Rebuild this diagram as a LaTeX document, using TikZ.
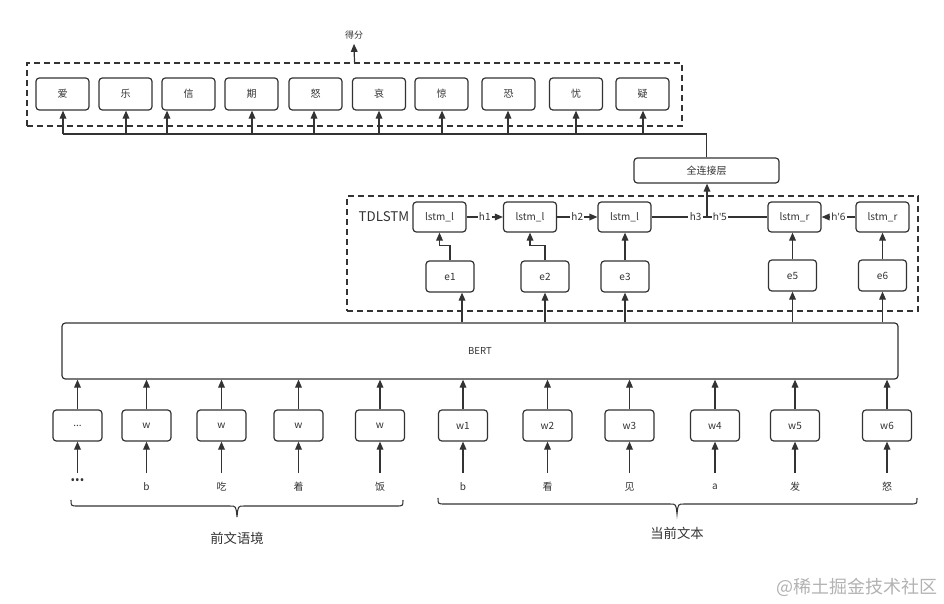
\documentclass[tikz,border=0pt]{standalone}
\usepackage{fontspec}
\setmainfont{Noto Sans CJK SC}
\newfontfamily\lat{Noto Sans}
\usetikzlibrary{arrows.meta}
\definecolor{ink}{HTML}{333333}
\newcommand\wdots{...}
\newcommand\bdots{{\lat\fontsize{9}{10}\selectfont •••}}
\begin{document}
\begin{tikzpicture}[x=0.75pt,y=-0.75pt,
  lbl/.style={font=\fontsize{7.5}{9}\selectfont, text=ink},
  box/.style={draw=ink, line width=0.9pt, rounded corners=2.5pt, fill=white, inner sep=0pt, lbl},
  emo/.style={box, minimum width=39.75pt, minimum height=24pt},
  lstmbox/.style={box, minimum width=39.75pt, minimum height=22.5pt},
  ebox/.style={box, minimum width=36pt, minimum height=23.25pt},
  wbox/.style={box, minimum width=36.75pt, minimum height=23.25pt},
  arr/.style={-{Triangle[length=6pt,width=5pt]}, line width=0.9pt, draw=ink},
  ln/.style={line width=0.9pt, draw=ink},
  dbox/.style={draw=ink, line width=1pt, dash pattern=on 4.5pt off 3pt, inner sep=0pt},
  hl/.style={lbl, fill=white, inner sep=1pt},
  bigl/.style={font=\fontsize{10}{12}\selectfont, text=ink},
]
\useasboundingbox (0,0) rectangle (944,603);

% dashed groups
\node[dbox, minimum width=491.25pt, minimum height=47.25pt] (emobox) at (354.5,94.5) {};
\node[dbox, minimum width=428.25pt, minimum height=86.25pt] (tdbox) at (632.5,253.5) {};

% score
\node[font=\fontsize{6.75}{8}\selectfont, text=ink] (score) at (354,35) {得分};
\draw[arr] (emobox.north) -- (score.south);

% emotion boxes
\node[box, minimum width=108.75pt, minimum height=18.75pt] (fc) at (706.5,170.5) {全连接层};
\coordinate (busR) at (706.5,134);
\coordinate (busL) at (63,134);
\draw[ln] (fc.north) -- (busR) -- (busL);
\foreach \n/\c/\x/\ax in {a1/爱/62.5/63, a2/乐/125.5/126, a3/信/188.5/167, a4/期/251.5/252, a5/怒/315.5/314, a6/哀/379/379, a7/惊/441.5/442, a8/恐/508.5/508, a9/忧/576/576, a10/疑/642.5/643}{
  \node[emo] (\n) at (\x,94) {\c};
  \coordinate (b\n) at (\ax,134);
  \draw[arr] (b\n) -- (b\n |- \n.south);
}

% TDLSTM
\node[bigl, anchor=west] (tdl) at (354,217) {TDLSTM};
\node[lstmbox] (l1) at (439.5,217) {lstm\_l};
\node[lstmbox] (l2) at (530,217) {lstm\_l};
\node[lstmbox] (l3) at (624.5,217) {lstm\_l};
\node[lstmbox] (r1) at (794.5,217) {lstm\_r};
\node[lstmbox] (r2) at (882.5,217) {lstm\_r};
\node[ebox] (e1) at (450,276.5) {e1};
\node[ebox] (e2) at (545,276.5) {e2};
\node[ebox] (e3) at (625,276.5) {e3};
\node[ebox] (e5) at (792.5,275.5) {e5};
\node[ebox] (e6) at (882.5,275.5) {e6};

\draw[arr] (l1) -- node[hl] {h1} (l2);
\draw[arr] (l2) -- node[hl] {h2} (l3);
\draw[ln] (l3) -- node[hl, pos=0.38] {h3} node[hl, pos=0.59] {\lat h'5} (r1);
\draw[arr] (r2) -- node[hl] {\lat h'6} (r1);
\coordinate (j) at (707,217);
\draw[arr] (j) -- (j |- fc.south);

\draw[arr] (e1.north) -- ++(0,-15) -| (l1.south);
\draw[arr] (e2.north) -- ++(0,-15) -| (l2.south);
\draw[arr] (e3.north) -- (e3.north |- l3.south);
\draw[arr] (e5.north) -- (e5.north |- r1.south);
\draw[arr] (e6.north) -- (e6.north |- r2.south);

% BERT
\node[box, minimum width=627pt, minimum height=42pt, font=\fontsize{7.2}{9}\selectfont] (bert) at (480,351) {BERT};
\coordinate (e1in) at ([xshift=9pt]e1.south);
\draw[arr] (e1in |- bert.north) -- (e1in);
\draw[arr] (e2.south |- bert.north) -- (e2.south);
\draw[arr] (e3.south |- bert.north) -- (e3.south);
\draw[arr] (e5.south |- bert.north) -- (e5.south);
\draw[arr] (e6.south |- bert.north) -- (e6.south);

% word boxes and tokens
\foreach \i/\x/\wl/\tk/\ty in {1/77.5/\wdots/\bdots/482, 2/146.5/w/b/487, 3/221.5/w/吃/487, 4/298.5/w/着/487, 5/380/w/饭/487, 6/463/w1/b/487, 7/547.5/w2/看/487, 8/629.5/w3/见/487, 9/715/w4/a/487, 10/795/w5/发/487, 11/887/w6/怒/487}{
  \node[wbox] (w\i) at (\x,425.5) {\wl};
  \node[lbl] (t\i) at (\x,\ty) {\tk};
  \coordinate (s\i) at (\x,473);
  \draw[arr] (s\i) -- (s\i |- w\i.south);
  \draw[arr] (w\i.north) -- (w\i.north |- bert.south);
}

% braces
\draw[ln, line width=0.8pt] (71,500) .. controls (71,506) .. (78,506) -- (230,506)
  .. controls (236,506) .. (237,517) .. controls (238,506) .. (244,506) -- (396,506)
  .. controls (403,506) .. (403,500);
\draw[ln, line width=0.8pt] (438,498) .. controls (438,504) .. (445,504) -- (670,504)
  .. controls (676,504) .. (677,514) .. controls (678,504) .. (684,504) -- (910,504)
  .. controls (917,504) .. (917,498);
\node[bigl] (ctx) at (237,538) {前文语境};
\node[bigl] (cur) at (677,533) {当前文本};

% watermark
\node[font=\fontsize{13.5}{16}\selectfont, text=black!30] (wm) at (857,587) {@稀土掘金技术社区};
\end{tikzpicture}
\end{document}
